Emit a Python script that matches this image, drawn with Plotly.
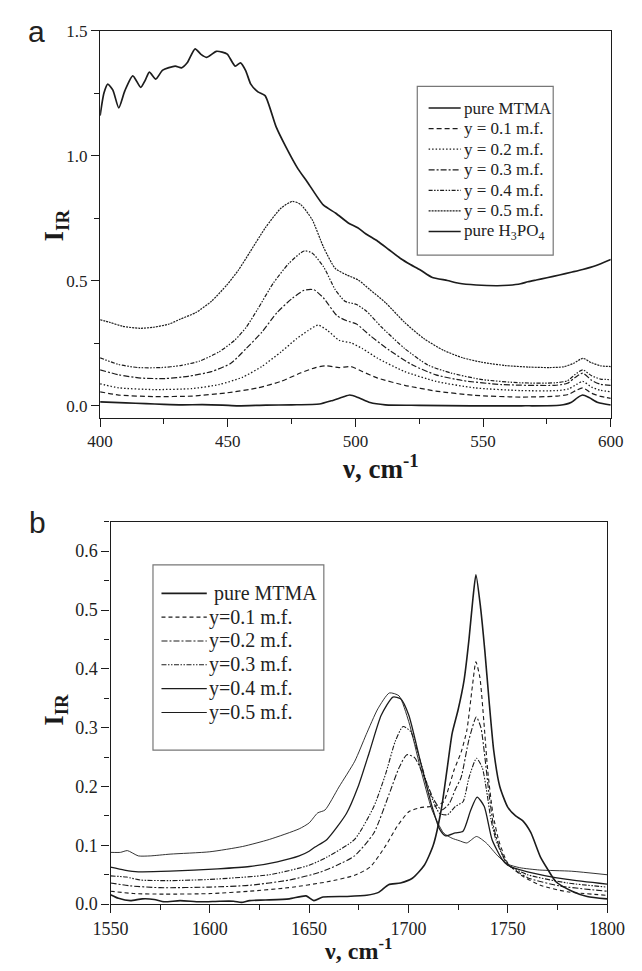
import plotly.graph_objects as go

# ---------------- Panel a: 400-600 cm-1 region ----------------
a_mtma_x = [400, 401.5, 403, 405, 407.3, 409.7, 412.8, 415.9, 417.6, 419.3, 421.8, 424.5, 429.4, 431.9,
            434.1, 437.2, 439.5, 441.8, 445.5, 447.8, 449.8, 452.9, 455, 457, 459, 461.8, 464.6, 468.9,
            472.6, 477.5, 481.2, 487.4, 492.3, 497.2, 500.9, 504, 508.7, 513, 517.8, 521.5, 525.4, 529.9,
            536, 540.5, 547.3, 555.6, 560, 564.7, 567.5, 570.8, 575, 579.9, 584.5, 589, 594, 600]
a_mtma_y = [1.16, 1.25, 1.286, 1.262, 1.191, 1.26, 1.319, 1.273, 1.3, 1.334, 1.306, 1.342, 1.358, 1.351,
            1.371, 1.427, 1.405, 1.393, 1.417, 1.414, 1.406, 1.358, 1.371, 1.34, 1.286, 1.255, 1.24, 1.116,
            1.038, 0.947, 0.894, 0.803, 0.77, 0.731, 0.712, 0.688, 0.658, 0.625, 0.588, 0.565, 0.543, 0.514,
            0.501, 0.49, 0.483, 0.48, 0.482, 0.488, 0.496, 0.503, 0.512, 0.523, 0.534, 0.545, 0.56, 0.585]

a_y01_x = [400, 407.3, 420.9, 436, 449.7, 461.8, 470.9, 478.4, 484.4, 488.2, 493.6, 498.2, 502.7, 508.7,
           519.3, 531.5, 546.6, 564.7, 579, 583.5, 586.5, 589, 592.5, 596, 600]
a_y01_y = [0.056, 0.043, 0.037, 0.039, 0.052, 0.072, 0.098, 0.131, 0.153, 0.16, 0.153, 0.157, 0.137, 0.111,
           0.082, 0.059, 0.042, 0.035, 0.039, 0.046, 0.062, 0.072, 0.05, 0.038, 0.03]

a_y02_x = [400, 407.3, 420.9, 436, 446.6, 455.7, 463.3, 470.9, 476.9, 481.5, 485.3, 489.1, 493.6, 498.2,
           502.7, 508.7, 519.3, 531.5, 546.6, 564.7, 579, 583.5, 586.5, 589, 592.5, 596, 600]
a_y02_y = [0.088, 0.072, 0.065, 0.069, 0.085, 0.114, 0.157, 0.216, 0.268, 0.301, 0.323, 0.301, 0.262, 0.252,
           0.229, 0.19, 0.137, 0.098, 0.072, 0.061, 0.061, 0.068, 0.085, 0.098, 0.075, 0.062, 0.056]

a_y03_x = [400, 407.3, 416, 425.4, 434.5, 443.6, 451.2, 457.2, 463.3, 469.3, 475.4, 479.9, 483.7, 487.5,
           492.8, 496.6, 500.4, 505.7, 513.3, 522.4, 531.5, 542, 557.2, 578, 583, 586, 589, 592.5, 596, 600]
a_y03_y = [0.144, 0.124, 0.111, 0.109, 0.118, 0.137, 0.17, 0.229, 0.294, 0.373, 0.431, 0.462, 0.464, 0.431,
           0.36, 0.34, 0.327, 0.281, 0.222, 0.163, 0.124, 0.101, 0.085, 0.082, 0.09, 0.113, 0.131, 0.102,
           0.086, 0.082]

a_y04_x = [400, 407, 414.8, 423.9, 431.5, 439, 446.6, 452.7, 457.2, 461.8, 467.8, 473.9, 479.9, 483, 487.5,
           492.1, 495.9, 500.4, 504.2, 510.3, 519.3, 528.4, 537.5, 549.6, 564.7, 578, 583, 586, 589, 592.5,
           596, 600]
a_y04_y = [0.192, 0.166, 0.153, 0.153, 0.161, 0.179, 0.216, 0.262, 0.314, 0.388, 0.49, 0.569, 0.619, 0.611,
           0.556, 0.464, 0.418, 0.405, 0.379, 0.314, 0.229, 0.163, 0.131, 0.105, 0.092, 0.092, 0.1, 0.125,
           0.144, 0.12, 0.107, 0.105]

a_y05_x = [400, 404, 408.8, 415.6, 420.9, 427, 431.5, 437.5, 443.6, 449.7, 454.2, 458.7, 464.8, 470.9,
           475.3, 478.4, 483, 487.5, 492.1, 496.6, 501.1, 505.7, 511.8, 519.3, 526.9, 534.5, 542, 549.6,
           558.7, 567.8, 576, 581.5, 585.5, 589, 592.5, 596, 600]
a_y05_y = [0.344, 0.333, 0.318, 0.31, 0.314, 0.327, 0.347, 0.373, 0.418, 0.484, 0.543, 0.615, 0.713, 0.791,
           0.817, 0.806, 0.745, 0.634, 0.549, 0.523, 0.503, 0.464, 0.412, 0.333, 0.268, 0.222, 0.192, 0.174,
           0.161, 0.155, 0.153, 0.156, 0.17, 0.19, 0.172, 0.16, 0.157]

a_h3po4_x = [400, 410, 417.9, 425, 432, 440, 448, 454, 465, 475, 485.9, 490.5, 495.1, 497.8, 501.1, 505.7,
             511.7, 525, 545, 565, 580, 584.4, 587, 589, 591.5, 595, 600]
a_h3po4_y = [0.016, 0.012, 0.009, 0.006, 0.004, 0.005, 0.003, 0.0, 0.003, 0.004, 0.007, 0.02, 0.035, 0.043,
             0.033, 0.013, 0.004, 0.002, 0.0, 0.0, 0.002, 0.013, 0.033, 0.043, 0.033, 0.013, 0.003]

# ---------------- Panel b: 1550-1800 cm-1 region ----------------
b_mtma_x = [1550, 1554, 1560, 1566, 1572, 1577, 1585, 1595, 1605, 1612, 1616, 1620, 1628, 1640, 1648.5,
            1652.4, 1657, 1669, 1679, 1685, 1690, 1696, 1702, 1708, 1712.5, 1716.5, 1719.5, 1722, 1725,
            1728, 1730.5, 1732.5, 1734, 1736.3, 1738.5, 1740.5, 1743, 1746, 1750, 1754, 1757.5, 1761.6,
            1766.5, 1770, 1774.3, 1782.4, 1790, 1800]
b_mtma_y = [0.016, 0.01, 0.006, 0.009, 0.008, 0.004, 0.006, 0.004, 0.005, 0.005, 0.003, 0.006, 0.007, 0.009,
            0.014, 0.006, 0.012, 0.013, 0.015, 0.02, 0.033, 0.036, 0.044, 0.066, 0.1, 0.16, 0.23, 0.29, 0.33,
            0.38, 0.45, 0.52, 0.56, 0.505, 0.43, 0.35, 0.26, 0.2, 0.165, 0.15, 0.142, 0.122, 0.08, 0.06,
            0.038, 0.022, 0.013, 0.009]

b_y01_x = [1550, 1561.7, 1577, 1600.7, 1620.2, 1639.7, 1659.2, 1672.9, 1680.7, 1688.5, 1694.3, 1700.2,
           1706, 1713.8, 1717.7, 1720.5, 1723, 1726.5, 1729.4, 1732.2, 1734, 1736, 1738, 1740, 1742.5,
           1745.5, 1750, 1756.8, 1766.5, 1780, 1800]
b_y01_y = [0.022, 0.018, 0.017, 0.018, 0.022, 0.028, 0.038, 0.049, 0.063, 0.099, 0.132, 0.157, 0.164,
           0.167, 0.174, 0.2, 0.228, 0.258, 0.295, 0.37, 0.412, 0.385, 0.31, 0.225, 0.155, 0.108, 0.07,
           0.049, 0.032, 0.021, 0.015]

b_y02_x = [1550, 1560, 1575, 1600, 1620, 1640, 1655.3, 1664, 1672.9, 1682.6, 1690.4, 1695.3, 1699.2,
           1703.1, 1708, 1712.9, 1716.7, 1720.6, 1723.6, 1726.5, 1730.5, 1734.2, 1736.5, 1738.5, 1740.5,
           1743, 1746, 1750, 1760, 1776, 1800]
b_y02_y = [0.036, 0.031, 0.028, 0.029, 0.032, 0.041, 0.054, 0.066, 0.082, 0.121, 0.188, 0.232, 0.254,
           0.249, 0.216, 0.177, 0.16, 0.171, 0.195, 0.215, 0.28, 0.318, 0.3, 0.25, 0.19, 0.13, 0.095,
           0.068, 0.045, 0.031, 0.022]

b_y03_x = [1550, 1558, 1565, 1580, 1600, 1630, 1650, 1659, 1672.9, 1682.6, 1688.5, 1693.4, 1697.3, 1701.2,
           1706, 1710.9, 1715.8, 1719.7, 1723.6, 1727.5, 1730.5, 1734.3, 1737.2, 1739.5, 1741.5, 1744, 1746,
           1750, 1760, 1780, 1800]
b_y03_y = [0.048, 0.046, 0.041, 0.04, 0.042, 0.05, 0.066, 0.08, 0.11, 0.166, 0.221, 0.277, 0.302, 0.293,
           0.243, 0.188, 0.154, 0.152, 0.166, 0.174, 0.215, 0.248, 0.232, 0.19, 0.145, 0.11, 0.093, 0.067,
           0.05, 0.036, 0.029]

b_y04_x = [1550, 1557, 1564, 1580, 1604, 1620, 1634, 1645, 1650, 1653, 1659, 1668.8, 1674.6, 1680.5,
           1686.3, 1692.2, 1696.1, 1700.2, 1706, 1711.9, 1715.8, 1718.7, 1723.6, 1727.5, 1731.4, 1734.6,
           1738.2, 1742.1, 1747, 1750, 1760, 1780, 1800]
b_y04_y = [0.063, 0.058, 0.055, 0.056, 0.06, 0.064, 0.072, 0.082, 0.09, 0.097, 0.11, 0.154, 0.199, 0.26,
           0.321, 0.352, 0.349, 0.321, 0.243, 0.166, 0.127, 0.116, 0.121, 0.124, 0.16, 0.182, 0.166, 0.11,
           0.077, 0.066, 0.055, 0.042, 0.034]

b_y05_x = [1550, 1555, 1558.5, 1564, 1570, 1580, 1600, 1616.5, 1630, 1645, 1650, 1654.3, 1658, 1665,
           1673, 1678.7, 1684.6, 1690.4, 1695.3, 1700.2, 1706, 1711.9, 1717.7, 1722, 1725.5, 1729.4,
           1734.3, 1739.2, 1745, 1750, 1756, 1766, 1782, 1800]
b_y05_y = [0.088, 0.088, 0.091, 0.082, 0.082, 0.085, 0.089, 0.098, 0.11, 0.128, 0.138, 0.155, 0.16, 0.199,
           0.243, 0.288, 0.332, 0.359, 0.354, 0.31, 0.232, 0.16, 0.121, 0.112, 0.108, 0.104, 0.115, 0.104,
           0.082, 0.068, 0.062, 0.058, 0.056, 0.05]

INK = "#1c1c1c"
SERIF = "Liberation Serif"
SANS = "Liberation Sans"

panel_a = [
    ("pure MTMA", a_mtma_x, a_mtma_y, "solid", 1.7),
    ("y = 0.1 m.f.", a_y01_x, a_y01_y, "5px,3px", 1.2),
    ("y = 0.2 m.f.", a_y02_x, a_y02_y, "1.5px,2px", 1.3),
    ("y = 0.3 m.f.", a_y03_x, a_y03_y, "6px,2px,2px,2px", 1.2),
    ("y = 0.4 m.f.", a_y04_x, a_y04_y, "4px,1.5px,1.5px,1.5px,1.5px,1.5px", 1.2),
    ("y = 0.5 m.f.", a_y05_x, a_y05_y, "2px,1px", 1.2),
    ("pure H<sub>3</sub>PO<sub>4</sub>", a_h3po4_x, a_h3po4_y, "solid", 1.6),
]

panel_b = [
    (" pure MTMA", b_mtma_x, b_mtma_y, "solid", 1.6),
    ("y=0.1 m.f.", b_y01_x, b_y01_y, "4px,3px", 1.1),
    ("y=0.2 m.f.", b_y02_x, b_y02_y, "6px,2px,2px,2px", 1.1),
    ("y=0.3 m.f.", b_y03_x, b_y03_y, "5px,1.5px,1.5px,1.5px,1.5px,1.5px", 1.1),
    ("y=0.4 m.f.", b_y04_x, b_y04_y, "solid", 1.3),
    ("y=0.5 m.f.", b_y05_x, b_y05_y, "solid", 0.9),
]

fig = go.Figure()

for name, xs, ys, dash, w in panel_a:
    fig.add_trace(go.Scatter(
        x=xs, y=ys, name=name, mode="lines", xaxis="x", yaxis="y", showlegend=False,
        line=dict(color=INK, width=w, dash=dash, shape="spline", smoothing=0.6),
    ))

for name, xs, ys, dash, w in panel_b:
    fig.add_trace(go.Scatter(
        x=xs, y=ys, name=name, mode="lines", xaxis="x2", yaxis="y2", showlegend=False,
        line=dict(color=INK, width=w, dash=dash, shape="spline", smoothing=0.6),
    ))

W, H = 642, 971


def px_x(p):
    return p / W


def px_y(p):
    return 1 - p / H


def axis_style(font_size):
    return dict(
        showline=True, mirror=True, linecolor=INK, linewidth=1.4,
        showgrid=False, zeroline=False,
        ticks="outside", ticklen=8, tickwidth=1.2, tickcolor=INK,
        tickfont=dict(family=SERIF, size=font_size, color="#222"),
    )


fig.update_layout(
    width=W, height=H,
    margin=dict(l=0, r=0, t=0, b=0),
    paper_bgcolor="white", plot_bgcolor="white",
    font=dict(family=SERIF, color="#222"),
    showlegend=False,
    xaxis=dict(domain=[px_x(87), px_x(628)], range=[400, 600], tick0=400, dtick=50,
               anchor="y", minor=dict(dtick=25, ticks="outside", ticklen=5, tickcolor=INK),
               **axis_style(17)),
    yaxis=dict(domain=[px_y(417), px_y(22)], range=[-0.048, 1.5], tick0=0, dtick=0.5,
               tickformat=".1f", anchor="x",
               minor=dict(dtick=0.25, ticks="outside", ticklen=5, tickcolor=INK),
               **axis_style(17)),
    xaxis2=dict(domain=[px_x(98), px_x(624)], range=[1550, 1800], tick0=1550, dtick=50,
                anchor="y2", minor=dict(dtick=25, ticks="outside", ticklen=5, tickcolor=INK),
                **axis_style(18)),
    yaxis2=dict(domain=[px_y(913), px_y(523)], range=[0, 0.65], tick0=0, dtick=0.1,
                tickformat=".1f", anchor="x2",
                minor=dict(dtick=0.05, ticks="outside", ticklen=5, tickcolor=INK),
                **axis_style(18)),
)


def draw_key(entries, box, line_x, text_x, row0, row_step, font_size):
    """Framed key: a sample of each line style followed by its label."""
    x0, y0, x1, y1 = box
    fig.add_shape(type="rect", xref="paper", yref="paper",
                  x0=px_x(x0), x1=px_x(x1), y0=px_y(y1), y1=px_y(y0),
                  line=dict(color="#777", width=1.2), fillcolor="white", layer="above")
    for i, (name, _xs, _ys, dash, w) in enumerate(entries):
        yc = row0 + i * row_step
        fig.add_shape(type="line", xref="paper", yref="paper",
                      x0=px_x(line_x[0]), x1=px_x(line_x[1]), y0=px_y(yc), y1=px_y(yc),
                      line=dict(color=INK, width=max(w, 1.1), dash=dash), layer="above")
        fig.add_annotation(text=name, xref="paper", yref="paper", x=px_x(text_x), y=px_y(yc),
                           xanchor="left", yanchor="middle", showarrow=False,
                           font=dict(family=SERIF, size=font_size, color="#222"))


draw_key(panel_a, box=(423, 79, 567, 251), line_x=(435, 469), text_x=470,
         row0=101, row_step=21, font_size=17)
draw_key(panel_b, box=(143, 567, 324, 756), line_x=(152, 200), text_x=200,
         row0=596, row_step=24.3, font_size=20)

title_font_a = dict(family=SERIF, size=27, color="#1a1a1a")
title_font_b = dict(family=SERIF, size=24, color="#1a1a1a")
annotations = [
    dict(text="a", x=px_x(20), y=px_y(23), font=dict(family=SANS, size=30, color="#222")),
    dict(text="b", x=px_x(21), y=px_y(524), font=dict(family=SANS, size=30, color="#222")),
    dict(text="<b>\u03bd, cm<sup>-1</sup></b>", x=px_x(384), y=px_y(467), font=title_font_a),
    dict(text="<b>I<sub>IR</sub></b>", x=px_x(40), y=px_y(221), textangle=-90, font=title_font_a),
    dict(text="<b>\u03bd, cm<sup>-1</sup></b>", x=px_x(360), y=px_y(959), font=title_font_b),
    dict(text="<b>I<sub>IR</sub></b>", x=px_x(40), y=px_y(715), textangle=-90, font=title_font_a),
]
for ann in annotations:
    ann.update(xref="paper", yref="paper", showarrow=False, xanchor="center", yanchor="middle")
    fig.add_annotation(**ann)

fig.write_html("out.html")
